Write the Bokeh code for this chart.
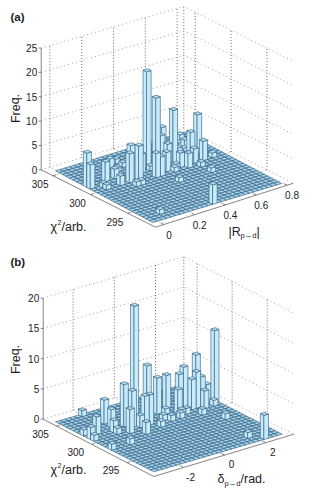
from bokeh.plotting import figure
from bokeh.models import Range1d, ColumnDataSource
from bokeh.embed import file_html
from bokeh.resources import INLINE
from bokeh.core.properties import value

# ---- data: histogram bins (R bin, chi2 bin, frequency) ----
N_BINS = 28
a_r_bin = [13,15,18,24,17,8,9,7,0,0,4,10,6,5,2,7,8,3,13,14,17,16,12,13,11,13,16,16,21,23,21,21,25,19,18,21,20,22,21,24,25,23,8,10,8,2,19,15]
a_chi_bin = [19,19,18,19,20,17,16,16,19,18,19,24,19,16,16,14,14,2,0,11,16,15,15,15,18,18,17,19,17,16,14,11,16,15,16,16,17,20,19,24,23,23,23,22,21,17,18,16]
a_freq = [20,14,11,8,7,7,7,6,7,5,4,1,2,2,1,1,1,1,4,1,1,1,5,4,4,1,5,6,6,4,1,1,1,3,3,3,2,3,2,2,1,1,2,1,1,1,3,4]

b_d_bin = [11,27,26,13,18,16,8,7,6,5,2,0,0,4,11,12,9,13,16,17,21,20,23,22,24,26,24,19,20,19,18,22,24,24,22,26,9,6,5,5,0,0,15,10]
b_chi_bin = [20,18,22,19,20,20,19,16,22,27,19,18,12,12,17,17,14,15,16,19,19,19,18,18,18,19,17,18,17,17,16,15,11,0,2,17,18,20,18,17,17,20,17,17]
b_freq = [19,12,7,9,6,6,7,4,4,1,3,2,1,1,5,5,2,1,1,1,7,6,6,5,5,3,3,4,1,1,1,1,1,4,1,1,6,3,2,1,1,1,1,2]

a_z_ticks = [0, 5, 10, 15, 20, 25]
b_z_ticks = [0, 5, 10, 15, 20]
chi_ticks = [295, 300, 305]
a_r_ticks = [0, 0.2, 0.4, 0.6, 0.8]
a_r_labels = ["0", "0.2", "0.4", "0.6", "0.8"]
b_d_ticks = [-2, 0, 2]
b_d_labels = ["-2", "0", "2"]

FONT = value("Liberation Sans")
TOP = "#b4def4"
FLOOR = "#a3d0ea"
SIDE = "#c8ebfc"
EDGE = "#2d5a78"
AXIS = "#777777"
INK = "#222222"

p = figure(width=315, height=504, x_range=Range1d(0, 315), y_range=Range1d(504, 0),
           output_backend="svg", toolbar_location=None, min_border=0, outline_line_color=None)
p.axis.visible = False
p.grid.visible = False


def lerp(a, b, t):
    return (a[0] + (b[0] - a[0]) * t, a[1] + (b[1] - a[1]) * t)


def panel(g, xb, chib, freq, zt, xt, xl, lab):
    zs = g["zs"]
    BL, BF, BR, BB = g["BL"], g["BF"], g["BR"], g["BB"]
    zmax = zt[-1]
    xu = lambda v: (v - g["xlo"]) / (g["xhi"] - g["xlo"])
    cu = lambda v: (g["chi_hi"] - v) / (g["chi_hi"] - g["chi_lo"])
    hx, hy, vx, vy = [], [], [], []

    # walls
    for z in zt:
        hx.append([BL[0], BB[0], BR[0]])
        hy.append([BL[1] - z * zs, BB[1] - z * zs, BR[1] - z * zs])
    for v in xt:
        a = lerp(BL, BB, xu(v))
        vx.append([a[0], a[0]])
        vy.append([a[1], a[1] - zmax * zs])
        f = lerp(BF, BR, xu(v))
        hx.append([f[0], a[0]])
        hy.append([f[1], a[1]])
    for v in chi_ticks:
        a = lerp(BB, BR, cu(v))
        vx.append([a[0], a[0]])
        vy.append([a[1], a[1] - zmax * zs])
        f = lerp(BL, BF, cu(v))
        hx.append([f[0], a[0]])
        hy.append([f[1], a[1]])
    vx.append([BB[0], BB[0]])
    vy.append([BB[1], BB[1] - zmax * zs])
    p.multi_line(hx, hy, line_color="#8a8a8a", line_width=0.8, line_dash="1 3")
    p.multi_line(vx, vy, line_color="#444444", line_width=0.8, line_dash="1 2")

    # axis lines and ticks
    ax, ay = [[BL[0], BF[0], BR[0]], [BL[0], BL[0]]], [[BL[1], BF[1], BR[1]], [BL[1], BL[1] - zmax * zs]]
    for z in zt:
        ax.append([BL[0] - 2.5, BL[0]])
        ay.append([BL[1] - z * zs, BL[1] - z * zs])
    for v in xt:
        f = lerp(BF, BR, xu(v))
        ax.append([f[0], f[0] - 3])
        ay.append([f[1], f[1] - 1.5])
    for v in chi_ticks:
        f = lerp(BL, BF, cu(v))
        ax.append([f[0], f[0] + 3])
        ay.append([f[1], f[1] - 1])
    p.multi_line(ax, ay, line_color=AXIS, line_width=0.9)

    # bars: every bin, far ones first
    F, L, R = g["F"], g["L"], g["R"]
    du = ((R[0] - F[0]) / N_BINS, (R[1] - F[1]) / N_BINS)
    dv = ((L[0] - F[0]) / N_BINS, (L[1] - F[1]) / N_BINS)
    heights = {(i, j): h for i, j, h in zip(xb, chib, freq)}

    def pt(i, j, h):
        return (F[0] + du[0] * i + dv[0] * j, F[1] + du[1] * i + dv[1] * j - h * zs)

    xs, ys, cols = [], [], []

    def add(pts, c):
        xs.append([q[0] for q in pts])
        ys.append([q[1] for q in pts])
        cols.append(c)

    cells = sorted(((i, j) for i in range(N_BINS) for j in range(N_BINS)),
                   key=lambda c: -(c[0] + c[1]))
    for i, j in cells:
        h = heights.get((i, j), 0)
        if h > 0:
            add([pt(i, j, 0), pt(i, j + 1, 0), pt(i, j + 1, h), pt(i, j, h)], SIDE)
            add([pt(i, j, 0), pt(i + 1, j, 0), pt(i + 1, j, h), pt(i, j, h)], SIDE)
        add([pt(i, j, h), pt(i + 1, j, h), pt(i + 1, j + 1, h), pt(i, j + 1, h)], TOP if h > 0 else FLOOR)
    src = ColumnDataSource(dict(xs=xs, ys=ys, c=cols))
    p.patches("xs", "ys", source=src, fill_color="c", line_color=EDGE, line_width=0.6)

    # tick labels
    tx = [BL[0] - 4] * len(zt)
    ty = [BL[1] - z * zs for z in zt]
    p.text(tx, ty, text=[str(z) for z in zt], text_font=FONT, text_font_size="10px",
           text_align="right", text_baseline="middle", text_color=INK)
    pts = [lerp(BF, BR, xu(v)) for v in xt]
    p.text([q[0] + g["xo"][0] for q in pts], [q[1] + g["xo"][1] for q in pts], text=xl,
           text_font=FONT, text_font_size="10px", text_align="center",
           text_baseline="middle", text_color=INK)
    pts = [lerp(BL, BF, cu(v)) for v in chi_ticks]
    p.text([q[0] + g["co"][0] for q in pts], [q[1] + g["co"][1] for q in pts],
           text=[str(v) for v in chi_ticks], text_font=FONT, text_font_size="10px",
           text_align="center", text_baseline="middle", text_color=INK)

    # titles
    yo = g["yo"]
    p.text([10], [16 + yo], text=[lab], text_font=FONT, text_font_size="11.5px",
           text_font_style="bold", text_baseline="middle", text_color=INK)
    p.text([15], [g["fy"]], text=["Freq."], text_font=FONT, text_font_size="12.5px", angle=1.5708,
           text_align="center", text_baseline="middle", text_color=INK)
    cy = g["cy"]
    p.text([50], [cy], text=["χ"], text_font=FONT, text_font_size="12.5px",
           text_baseline="middle", text_color=INK)
    p.text([57], [cy - 4], text=["2"], text_font=FONT, text_font_size="7px",
           text_baseline="middle", text_color=INK)
    p.text([61], [cy], text=["/arb."], text_font=FONT, text_font_size="12.5px",
           text_baseline="middle", text_color=INK)


def extras():
    # x axis titles with subscripts
    kw = dict(text_font=FONT, text_baseline="middle", text_color=INK)
    p.text([228], [231], text=["|R"], text_font_size="12.5px", **kw)
    p.text([240], [235], text=["p→d"], text_font_size="7.5px", **kw)
    p.text([256], [231], text=["|"], text_font_size="12.5px", **kw)
    p.text([217], [478], text=["δ"], text_font_size="12.5px", **kw)
    p.text([224], [483], text=["p→d"], text_font_size="7.5px", **kw)
    p.text([240], [478], text=["/rad."], text_font_size="12.5px", **kw)


geo_a = dict(BL=(40.7, 169.3), BF=(155, 226.7), BR=(293, 182.7), BB=(183.3, 127.7),
             F=(152.3, 222), L=(55, 170.3), R=(281, 183), zs=4.87,
             xlo=-0.0547, xhi=0.842, chi_lo=291.3, chi_hi=306.6,
             xo=(5, 10), co=(-13, 8.5), yo=0, fy=108, cy=226)
geo_b = dict(BL=(42.7, 418.7), BF=(153.3, 476), BR=(293.3, 433.7), BB=(183.3, 377.3),
             F=(153.3, 471.3), L=(55, 421.3), R=(281.7, 433.7), zs=6.05,
             xlo=-3.45, xhi=3.37, chi_lo=291.2, chi_hi=306.9,
             xo=(7, 9), co=(-16, 7.5), yo=245, fy=359, cy=469)

panel(geo_a, a_r_bin, a_chi_bin, a_freq, a_z_ticks, a_r_ticks, a_r_labels, "(a)")
panel(geo_b, b_d_bin, b_chi_bin, b_freq, b_z_ticks, b_d_ticks, b_d_labels, "(b)")
extras()

open("out.html", "w").write(file_html(p, INLINE))
